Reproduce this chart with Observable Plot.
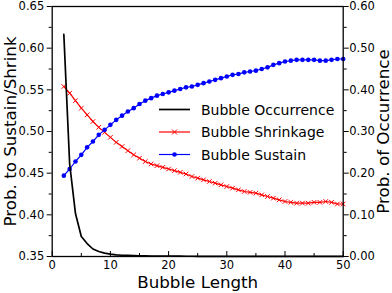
<!DOCTYPE html>
<html><head><meta charset="utf-8">
<script src="https://cdn.jsdelivr.net/npm/d3@7"></script>
<script src="https://cdn.jsdelivr.net/npm/@observablehq/plot@0.6"></script>
<style>
html,body{margin:0;padding:0;background:#fff;}
#wrap{position:relative;width:392px;height:293px;font-family:"DejaVu Sans";}
#legend{position:absolute;left:0;top:0;pointer-events:none;}
</style></head><body><div id="wrap"></div>
<script>
const lengths = [2,3,4,5,6,7,8,9,10,11,12,13,14,15,16,17,18,19,20,21,22,23,24,25,26,27,28,29,30,31,32,33,34,35,36,37,38,39,40,41,42,43,44,45,46,47,48,49,50];
const occurrence = [0.533,0.222,0.103,0.048,0.031,0.018,0.012,0.008,0.0055,0.004,0.003,0.0025,0.002,0.0017,0.0014,0.0012,0.0010,0.0009,0.0008,0.0007,0.0007,0.0006,0.0006,0.0005,0.0005,0.0004,0.0004,0.0004,0.0003,0.0003,0.0003,0.0003,0.0003,0.0002,0.0002,0.0002,0.0002,0.0002,0.0002,0.0002,0.0001,0.0001,0.0001,0.0001,0.0001,0.0001,0.0001,0.0001,0.0001];
const shrinkage = [0.554,0.546,0.537,0.528,0.520,0.512,0.505,0.499,0.493,0.487,0.482,0.477,0.472,0.468,0.464,0.461,0.459,0.457,0.455,0.453,0.451,0.449,0.446,0.444,0.442,0.440,0.438,0.436,0.434,0.432,0.430,0.428,0.427,0.426,0.424,0.422,0.420,0.418,0.416,0.415,0.414,0.414,0.414,0.415,0.415,0.416,0.415,0.413,0.413];
const sustain = [0.447,0.455,0.464,0.472,0.481,0.488,0.496,0.502,0.508,0.514,0.519,0.524,0.528,0.533,0.537,0.540,0.543,0.545,0.547,0.549,0.551,0.553,0.554,0.556,0.558,0.560,0.562,0.564,0.566,0.568,0.569,0.571,0.572,0.573,0.575,0.577,0.580,0.582,0.584,0.585,0.586,0.586,0.586,0.586,0.585,0.585,0.586,0.587,0.587];
const seriesNames = ["Bubble Occurrence","Bubble Shrinkage","Bubble Sustain"];
const seriesColors = ["black","red","blue"];
const seriesMarkers = ["none","times","circle"];
const xTicks = [0,10,20,30,40,50];
const xMinor = [5,15,25,35,45];
const leftTicks = [0.35,0.40,0.45,0.50,0.55,0.60,0.65];
const leftMinor = [0.375,0.425,0.475,0.525,0.575,0.625];
const rightTicks = [0,0.1,0.2,0.3,0.4,0.5,0.6];
const rightMinor = [0.05,0.15,0.25,0.35,0.45,0.55];
const xLabel = "Bubble Length";
const leftLabel = "Prob. to Sustain/Shrink";
const rightLabel = "Prob. of Occurrence";
const leftDomain = [0.35,0.65];
const rightDomain = [0,0.6];

const k = (leftDomain[1]-leftDomain[0])/(rightDomain[1]-rightDomain[0]);
const toLeft = v => leftDomain[0] + (v - rightDomain[0]) * k;
const fromLeft = v => rightDomain[0] + (v - leftDomain[0]) / k;

const rows = lengths.map((x,i)=>({x, occ: occurrence[i], shr: shrinkage[i], sus: sustain[i]}));

const plot = Plot.plot({
  width: 392, height: 293,
  marginLeft: 51.7, marginRight: 49.3, marginTop: 6, marginBottom: 37,
  style: {fontFamily: "DejaVu Sans", fontSize: "11.5px", color: "black", background: "white", overflow: "visible"},
  x: {domain: [0,50]},
  y: {domain: leftDomain},
  marks: [
    Plot.axisY(leftTicks, {anchor: "left", tickSize: 5, tickPadding: 3, tickFormat: d => d.toFixed(2), label: null}),
    Plot.axisY(leftMinor, {anchor: "left", tickSize: 3, tickFormat: () => "", label: null}),
    Plot.axisY(rightTicks.map(toLeft), {anchor: "right", tickSize: 5, tickPadding: 1, tickFormat: d => Math.abs(fromLeft(d)).toFixed(2), label: null}),
    Plot.axisY(rightMinor.map(toLeft), {anchor: "right", tickSize: 3, tickFormat: () => "", label: null}),
    Plot.axisX(xTicks, {anchor: "bottom", tickSize: 0, tickPadding: 4.5, tickFormat: d => String(d), label: null}),
    Plot.axisX(xTicks, {anchor: "bottom", tickSize: -5, tickFormat: () => "", label: null}),
    Plot.axisX(xMinor, {anchor: "bottom", tickSize: -3, tickFormat: () => "", label: null}),
    Plot.line(rows, {x: "x", y: "shr", stroke: "red", strokeWidth: 1.2}),
    Plot.dot(rows, {x: "x", y: "shr", symbol: "times", stroke: "red", strokeWidth: 1, r: 2.2}),
    Plot.line(rows, {x: "x", y: "sus", stroke: "blue", strokeWidth: 1.2}),
    Plot.dot(rows, {x: "x", y: "sus", fill: "blue", stroke: "none", r: 2.3}),
    Plot.line(rows, {x: "x", y: d => toLeft(d.occ), stroke: "black", strokeWidth: 1.7}),
    Plot.frame({stroke: "black", strokeWidth: 1.3}),
    Plot.text([xLabel], {frameAnchor: "bottom", dy: 31.5, lineAnchor: "bottom", textAnchor: "middle", fontSize: 16.7, fill: "black"}),
    Plot.text([leftLabel], {frameAnchor: "left", dx: -36.7, rotate: -90, lineAnchor: "bottom", textAnchor: "middle", fontSize: 16.7, fill: "black"}),
    Plot.text([rightLabel], {frameAnchor: "right", dx: 45.8, rotate: -90, lineAnchor: "bottom", textAnchor: "middle", fontSize: 16.7, fill: "black"})
  ]
});
const wrap = document.getElementById("wrap");
wrap.appendChild(plot);

// legend overlay (no frame), positioned as in the reference
const leg = d3.select(wrap).append("svg").attr("id","legend").attr("width",392).attr("height",293);
const rowY = [109.5, 132, 154.5];
seriesNames.forEach((name,i)=>{
  const g = leg.append("g").attr("transform",`translate(0,${rowY[i]})`);
  g.append("line").attr("x1",159).attr("x2",190).attr("y1",0).attr("y2",0)
    .attr("stroke",seriesColors[i]).attr("stroke-width", i===0?1.7:1.2);
  if (seriesMarkers[i]==="times") {
    g.append("path").attr("transform","translate(174.5,0)")
      .attr("d", d3.symbol(d3.symbolTimes, 18)()).attr("stroke",seriesColors[i]).attr("fill","none").attr("stroke-width",1);
  } else if (seriesMarkers[i]==="circle") {
    g.append("circle").attr("cx",174.5).attr("cy",0).attr("r",2.3).attr("fill",seriesColors[i]);
  }
  g.append("text").attr("x",201).attr("y",0).attr("dy","0.36em")
    .attr("font-family","DejaVu Sans").attr("font-size",14).attr("fill","black").text(name);
});
</script></body></html>
